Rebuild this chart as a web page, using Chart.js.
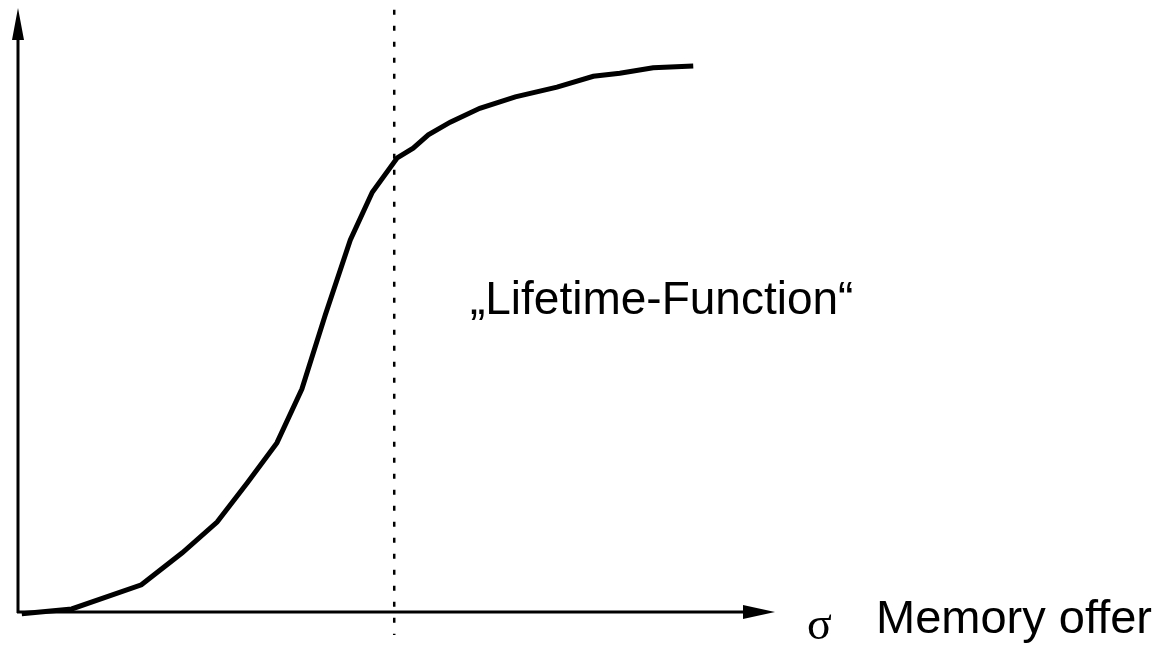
<!DOCTYPE html>
<html>
<head>
<meta charset="utf-8">
<script src="https://cdn.jsdelivr.net/npm/chart.js@4"></script>
<style>
  html, body { margin: 0; padding: 0; background: #fff; }
  #wrap { width: 1162px; height: 646px; }
</style>
</head>
<body>
<div id="wrap"><canvas id="chart-lifetime"></canvas></div>
<script>
// memory offer (x) vs lifetime (y), in axis percent
const memoryOffer = [0.5, 7.1, 16.3, 21.7, 26.3, 30.3, 34.2, 37.5, 40.6, 43.9, 46.8, 50.1, 52.2, 54.2, 57.1, 61.0, 65.7, 71.2, 76.0, 79.5, 83.9, 89.2];
const lifetime    = [-0.3, 0.5, 4.5, 9.8, 14.9, 21.4, 28.0, 36.9, 49.2, 61.6, 69.5, 75.2, 76.8, 79.0, 81.1, 83.4, 85.3, 86.9, 88.7, 89.2, 90.1, 90.4];
const markerX = 49.7;
const markerY = [99.7, -3.8];
const curveLabel = '\u201ELifetime-Function\u201C';
const axisSymbol = '\u03C3';
const axisLabel = 'Memory offer';

const axesPlugin = {
  id: 'arrowAxes',
  afterDatasetsDraw(chart) {
    const { ctx, chartArea: a, scales: { x, y } } = chart;
    const x0 = a.left, y0 = a.bottom;
    ctx.save();
    ctx.strokeStyle = '#000';
    ctx.fillStyle = '#000';
    ctx.lineWidth = 3;
    // y axis
    ctx.beginPath();
    ctx.moveTo(x0, y0 + 1);
    ctx.lineTo(x0, a.top + 30);
    ctx.stroke();
    ctx.beginPath();
    ctx.moveTo(x0, a.top);
    ctx.lineTo(x0 - 6, a.top + 32);
    ctx.lineTo(x0 + 6, a.top + 32);
    ctx.closePath();
    ctx.fill();
    // x axis
    ctx.beginPath();
    ctx.moveTo(x0 - 1, y0);
    ctx.lineTo(a.right - 30, y0);
    ctx.stroke();
    ctx.beginPath();
    ctx.moveTo(a.right, y0);
    ctx.lineTo(a.right - 32, y0 - 7);
    ctx.lineTo(a.right - 32, y0 + 7);
    ctx.closePath();
    ctx.fill();
    // labels
    ctx.textBaseline = 'alphabetic';
    ctx.textAlign = 'left';
    ctx.font = '46px "Liberation Sans", Arial, sans-serif';
    ctx.fillText(curveLabel, x.getPixelForValue(59.7), y.getPixelForValue(49.4));
    ctx.font = '47px "Liberation Sans", Arial, sans-serif';
    ctx.fillText(axisLabel, a.right + 101, y0 + 21);
    ctx.font = '46px "Liberation Serif", "DejaVu Serif", serif';
    ctx.fillText(axisSymbol, a.right + 32, y0 + 27);
    ctx.restore();
  }
};

new Chart(document.getElementById('chart-lifetime'), {
  type: 'scatter',
  data: {
    datasets: [
      {
        label: 'Lifetime',
        data: memoryOffer.map((v, i) => ({ x: v, y: lifetime[i] })),
        showLine: true,
        borderColor: '#000',
        borderWidth: 5,
        pointRadius: 0,
        tension: 0,
        clip: false
      },
      {
        label: 'marker',
        data: markerY.map(v => ({ x: markerX, y: v })),
        showLine: true,
        borderColor: '#000',
        borderWidth: 2.5,
        borderDash: [5, 11],
        pointRadius: 0,
        clip: false
      }
    ]
  },
  options: {
    responsive: true,
    maintainAspectRatio: false,
    animation: false,
    layout: { padding: { left: 18, right: 387, top: 8, bottom: 34 } },
    plugins: { legend: { display: false }, tooltip: { enabled: false } },
    scales: {
      x: { type: 'linear', min: 0, max: 100, display: false },
      y: { type: 'linear', min: 0, max: 100, display: false }
    }
  },
  plugins: [axesPlugin]
});
</script>
</body>
</html>
